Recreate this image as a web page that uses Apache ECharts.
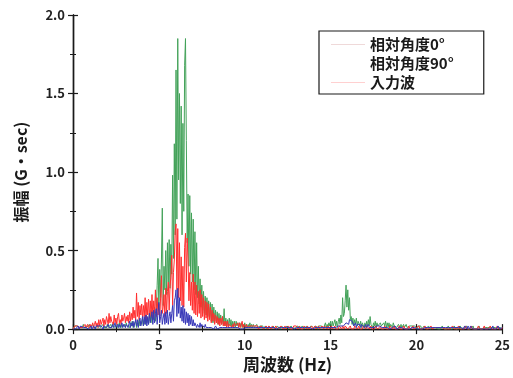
<!DOCTYPE html>
<html>
<head>
<meta charset="utf-8">
<script src="https://cdn.jsdelivr.net/npm/echarts@6/dist/echarts.min.js"></script>
<style>
  html, body { margin: 0; padding: 0; background: #fff; }
  #chart { width: 513px; height: 378px; }
</style>
</head>
<body>
<div id="chart"></div>
<script>
// Spectral amplitude, sampled every 0.05 Hz from 0 to 25 Hz.
// Values are in units of 0.01 G·sec; each row covers 1 Hz (20 samples).
const FREQ_STEP = 0.05;
const AMP_UNIT = 0.01;

const seriesNames = ['相対角度0°', '相対角度90°', '入力波'];
const xTicks = [0, 5, 10, 15, 20, 25];
const yTicks = [0.0, 0.5, 1.0, 1.5, 2.0];

// 相対角度0°
const angle0 = [
  [0,1,2,1,1,2,1,3,1,2,1,1,3,1,2,1,1,2,1,3],
  [1,2,1,3,1,2,1,1,3,2,1,3,1,2,1,3,1,2,2,1],
  [3,1,2,1,3,1,2,4,1,2,1,3,1,2,4,1,3,1,2,1],
  [3,1,4,2,1,3,1,4,2,5,1,3,2,5,1,4,2,6,2,5],
  [3,7,2,6,3,9,4,7,3,10,5,12,4,9,6,14,5,11,28,45],
  [12,38,20,44,77,15,40,25,50,22,55,30,57,26,54,35,98,45,118,60],
  [165,70,185,95,150,80,142,60,131,75,168,185,120,55,86,40,85,35,74,30],
  [70,25,62,22,55,20,40,16,32,14,28,12,24,10,21,9,20,8,18,7],
  [17,5,16,4,14,5,12,4,11,3,10,4,9,3,8,3,13,2,7,2],
  [6,2,7,2,6,1,5,2,5,1,5,2,4,1,4,2,4,1,3,1],
  [4,1,3,1,3,1,4,1,3,1,3,1,2,1,3,1,2,1,2,1],
  [1,2,0,1,2,1,0,1,2,1,1,0,1,2,1,1,0,1,2,1],
  [1,0,1,2,1,1,0,1,1,2,1,0,1,1,2,1,0,1,1,1],
  [0,1,2,1,0,1,1,2,1,0,1,1,2,1,0,1,1,2,1,1],
  [1,0,1,2,1,0,2,1,1,2,1,3,1,2,4,1,3,1,4,2],
  [5,1,5,2,4,6,2,5,1,5,7,3,9,4,20,8,10,18,28,14],
  [25,12,20,6,8,3,7,2,6,3,7,2,5,6,2,5,1,4,5,1],
  [4,1,5,2,6,2,8,3,4,1,4,2,5,1,4,2,3,1,4,2],
  [3,1,4,2,5,1,4,1,4,1,3,2,1,4,2,1,3,1,2,3],
  [2,1,3,1,2,3,1,2,3,1,2,1,2,1,2,2,1,1,2,1],
  [2,0,2,1,1,2,0,1,1,2,1,0,1,1,2,1,0,1,1,1],
  [1,0,1,1,2,0,1,1,0,1,2,1,0,1,1,0,1,2,1,0],
  [1,1,0,1,2,1,0,1,1,0,1,2,0,1,1,1,0,1,2,1],
  [0,1,1,0,1,1,2,0,1,1,0,1,1,2,0,1,1,0,1,1],
  [1,0,1,1,0,1,1,0,2,1,0,1,1,0,1,1,0,1,1,0],
  [1]
].flat();

// 相対角度90°
const angle90 = [
  [0,0,1,0,1,1,2,0,1,2,3,1,1,2,0,1,2,1,0,1],
  [1,2,0,1,2,1,0,2,1,1,2,3,1,2,1,0,2,1,3,1],
  [1,3,1,0,2,1,3,1,2,4,1,2,3,1,3,1,2,4,1,3],
  [3,1,3,4,1,2,5,1,4,2,5,1,4,6,2,6,1,5,7,2],
  [5,8,2,8,3,9,2,8,3,10,4,7,11,3,12,4,10,13,3,11],
  [17,4,8,12,3,7,10,3,11,4,12,3,8,11,4,10,15,5,18,20],
  [25,8,26,10,20,7,14,5,15,4,13,3,11,4,10,2,9,3,8,2],
  [6,2,4,5,1,3,4,1,4,1,3,2,3,1,3,1,2,2,1,2],
  [2,1,1,2,0,1,2,1,0,1,1,1,0,1,1,0,1,1,1,1],
  [1,0,1,1,0,1,1,1,0,1,1,0,1,1,1,0,1,1,0,1],
  [1,1,0,1,1,0,1,1,0,1,1,1,0,1,0,1,1,0,1,1],
  [0,1,1,0,1,1,1,0,1,1,0,1,1,0,1,1,1,0,1,1],
  [1,0,1,1,0,1,1,0,1,1,1,0,1,1,0,1,1,1,0,1],
  [1,1,0,1,1,0,1,1,1,0,1,1,0,1,1,0,1,1,1,0],
  [0,1,1,0,1,1,0,1,1,1,0,1,1,0,1,1,0,1,1,1],
  [1,0,1,1,0,1,1,1,1,2,1,2,2,1,3,2,3,1,4,4],
  [5,3,6,7,7,5,4,2,3,4,1,3,3,2,3,1,3,2,2,1],
  [2,3,1,2,3,1,2,2,1,2,2,1,2,1,2,2,1,2,1,1],
  [1,0,2,1,1,0,1,1,2,0,1,1,1,0,1,2,1,0,1,1],
  [1,1,0,1,1,2,0,1,1,0,1,1,0,1,1,1,0,1,1,0],
  [1,0,1,1,0,1,1,0,1,1,1,0,1,1,0,1,1,0,1,1],
  [0,1,1,0,1,1,0,1,1,0,1,1,1,0,1,1,0,1,1,0],
  [1,0,1,1,0,1,1,1,0,1,2,0,1,2,1,0,2,1,1,0],
  [2,1,0,2,1,1,0,1,1,0,1,1,0,1,1,0,1,1,0,1],
  [1,0,1,1,0,1,1,0,1,2,0,1,1,0,1,2,1,0,1,1],
  [1]
].flat();

// 入力波
const inputWave = [
  [0,1,2,1,1,2,1,2,1,2,1,1,2,1,3,1,2,3,1,2],
  [3,1,2,4,1,3,5,2,4,1,6,2,6,3,5,7,2,6,3,8],
  [9,3,10,4,8,5,6,3,9,4,7,3,8,10,4,6,3,9,5,7],
  [10,4,8,5,9,4,11,5,10,6,14,7,12,5,23,8,17,6,15,9],
  [16,7,15,8,20,6,17,9,19,7,18,8,22,7,18,10,25,8,20,9],
  [16,6,20,34,10,14,22,8,26,10,24,30,12,27,33,47,15,36,44,62],
  [67,25,64,20,55,18,46,15,40,14,52,61,30,58,44,18,36,15,30,12],
  [35,10,30,9,28,8,24,10,25,7,22,8,20,6,18,7,17,5,16,6],
  [14,4,12,5,10,3,9,4,8,3,7,2,7,3,8,2,5,2,5,1],
  [5,1,3,2,4,1,3,1,4,2,3,1,4,1,4,1,3,5,1,3],
  [3,1,3,1,2,1,2,1,1,2,1,1,2,1,1,2,0,1,1,2],
  [1,2,0,1,1,2,1,0,2,1,1,0,2,1,1,0,2,1,1,0],
  [1,0,2,1,1,0,1,2,0,1,1,2,1,0,1,1,0,2,1,1],
  [2,1,0,1,2,0,1,1,0,2,1,1,0,2,1,0,1,1,2,0],
  [1,1,2,0,1,1,2,0,1,1,2,1,0,2,1,1,0,2,1,0],
  [1,2,0,1,1,2,0,1,1,0,2,1,1,0,2,1,0,2,1,1],
  [0,1,1,2,0,1,1,0,2,1,1,0,1,2,0,1,1,0,2,1],
  [1,0,2,1,1,0,1,2,0,1,1,0,2,1,1,0,1,1,2,0],
  [1,1,0,2,1,0,1,1,0,2,1,1,0,1,2,0,1,1,0,1],
  [2,0,1,1,0,2,1,0,1,1,0,2,1,0,1,1,2,0,1,1],
  [1,0,1,2,0,1,1,0,1,1,2,0,1,1,0,1,1,2,0,1],
  [1,1,0,1,1,2,0,1,1,0,1,1,2,0,1,1,0,1,1,0],
  [1,0,2,1,0,1,1,0,1,2,0,1,1,0,1,1,0,2,1,0],
  [1,1,0,1,2,0,1,1,0,1,1,0,2,1,0,1,1,0,1,2],
  [0,1,1,0,1,1,2,0,1,1,0,1,1,0,2,1,0,1,1,0],
  [1]
].flat();

const toPairs = arr => arr.map((v, i) => [+(i * FREQ_STEP).toFixed(2), v * AMP_UNIT]);

const FONT = '"Noto Sans CJK JP", "Noto Sans", sans-serif';
const INK = '#1a1a1a';

const colors = {
  '相対角度0°': '#43a259',
  '相対角度90°': '#3838b8',
  '入力波': '#ff2f2f'
};

const tickStyle = { show: true, inside: true, length: 5, lineStyle: { color: INK, width: 1.2 } };
const minorStyle = { show: true, splitNumber: 2, length: 3, lineStyle: { color: INK, width: 1 } };
const lineAxis = { show: true, lineStyle: { color: INK, width: 1.4 } };

const chart = echarts.init(document.getElementById('chart'), null, { renderer: 'canvas' });

chart.setOption({
  backgroundColor: '#fff',
  animation: false,
  grid: { left: 73, right: 9, top: 15, bottom: 48, containLabel: false },
  legend: {
    orient: 'vertical',
    left: 319,
    top: 31,
    padding: [5, 30, 3, 12],
    itemGap: 2,
    itemWidth: 34,
    itemHeight: 1,
    icon: 'rect',
    borderColor: INK,
    borderWidth: 1.2,
    borderRadius: 0,
    textStyle: { fontFamily: FONT, fontSize: 15, fontWeight: 'bold', color: INK, lineHeight: 17 },
    data: [
      { name: seriesNames[0], itemStyle: { color: 'rgba(220,170,170,0.45)' } },
      { name: seriesNames[1], itemStyle: { color: 'rgba(255,255,255,0)' } },
      { name: seriesNames[2], itemStyle: { color: 'rgba(255,120,120,0.35)' } }
    ]
  },
  xAxis: [
    {
      type: 'value', min: xTicks[0], max: xTicks[xTicks.length - 1], interval: 5,
      position: 'bottom',
      name: '周波数 (Hz)', nameLocation: 'middle', nameGap: 25,
      nameTextStyle: { fontFamily: FONT, fontSize: 17, fontWeight: 'bold', color: INK },
      axisLine: lineAxis, axisTick: tickStyle, minorTick: minorStyle,
      axisLabel: { margin: 9, fontFamily: FONT, fontSize: 13, fontWeight: 'bold', color: '#222' },
      splitLine: { show: false }
    },
    {
      type: 'value', min: xTicks[0], max: xTicks[xTicks.length - 1], interval: 5,
      position: 'top',
      axisLine: lineAxis, axisTick: tickStyle, minorTick: minorStyle,
      axisLabel: { show: false }, splitLine: { show: false }
    }
  ],
  yAxis: [
    {
      type: 'value', min: yTicks[0], max: yTicks[yTicks.length - 1], interval: 0.5,
      position: 'left',
      name: '振幅 (G・sec)', nameLocation: 'middle', nameGap: 44, nameRotate: 90,
      nameTextStyle: { fontFamily: FONT, fontSize: 16, fontWeight: 'bold', color: INK },
      axisLine: lineAxis, axisTick: tickStyle, minorTick: minorStyle,
      axisLabel: { margin: 8, fontFamily: FONT, fontSize: 13, fontWeight: 'bold', color: '#222',
                   formatter: v => v.toFixed(1) },
      splitLine: { show: false }
    },
    {
      type: 'value', min: yTicks[0], max: yTicks[yTicks.length - 1], interval: 0.5,
      position: 'right',
      axisLine: lineAxis, axisTick: tickStyle, minorTick: minorStyle,
      axisLabel: { show: false }, splitLine: { show: false }
    }
  ],
  series: [
    { name: seriesNames[0], data: toPairs(angle0), color: colors[seriesNames[0]] },
    { name: seriesNames[2], data: toPairs(inputWave), color: colors[seriesNames[2]] },
    { name: seriesNames[1], data: toPairs(angle90), color: colors[seriesNames[1]] }
  ].map(s => ({
    type: 'line',
    name: s.name,
    data: s.data,
    xAxisIndex: 0,
    yAxisIndex: 0,
    showSymbol: false,
    symbol: 'none',
    lineStyle: { width: 1, color: s.color },
    itemStyle: { color: s.color },
    emphasis: { disabled: true }
  }))
});
</script>
</body>
</html>
